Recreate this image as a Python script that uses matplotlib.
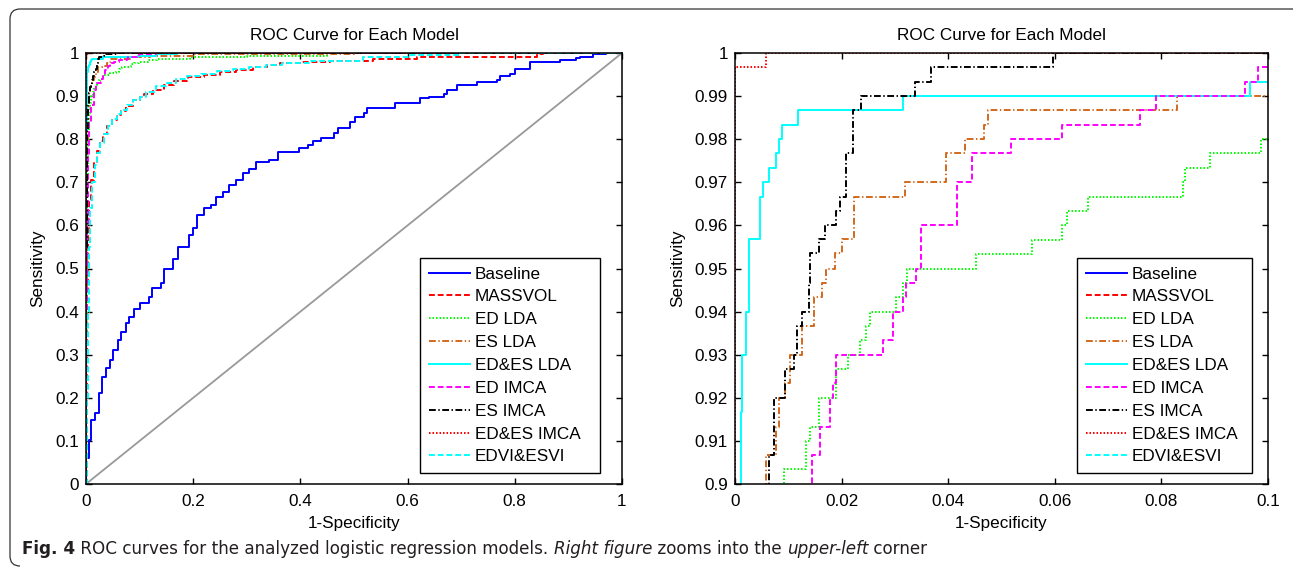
import numpy as np
import matplotlib
matplotlib.use('Agg')
import matplotlib.pyplot as plt
from matplotlib.path import Path
from matplotlib.patches import PathPatch

# ROC points: at fpr[k] the curve rises to tpr[k] (drawn with steps-post)
base_fpr = [0, 0, 0.005, 0.009, 0.016, 0.025, 0.030, 0.037, 0.044, 0.050, 0.059, 0.065, 0.075, 0.081, 0.090,
            0.100, 0.118, 0.124, 0.140, 0.146, 0.162, 0.171, 0.193, 0.199, 0.208, 0.221, 0.233, 0.243, 0.255,
            0.267, 0.280, 0.292, 0.305, 0.317, 0.342, 0.358, 0.398, 0.414, 0.423, 0.438, 0.463, 0.471, 0.493,
            0.502, 0.518, 0.524, 0.576, 0.623, 0.639, 0.667, 0.673, 0.692, 0.729, 0.766, 0.772, 0.791, 0.800,
            0.828, 0.884, 0.915, 0.921, 0.946, 0.97, 1.0]
base_tpr = [0, 0.06, 0.102, 0.148, 0.164, 0.210, 0.249, 0.268, 0.288, 0.311, 0.334, 0.353, 0.373, 0.388, 0.407,
            0.419, 0.435, 0.454, 0.466, 0.500, 0.523, 0.551, 0.578, 0.593, 0.624, 0.640, 0.647, 0.667, 0.678,
            0.694, 0.705, 0.721, 0.732, 0.746, 0.752, 0.771, 0.779, 0.786, 0.796, 0.802, 0.814, 0.827, 0.841,
            0.852, 0.860, 0.872, 0.883, 0.895, 0.899, 0.906, 0.914, 0.926, 0.932, 0.937, 0.947, 0.952, 0.963,
            0.978, 0.984, 0.988, 0.991, 0.997, 1.0, 1.0]

massvol_fpr = [0, 0.001, 0.002, 0.003, 0.006, 0.010, 0.015, 0.020, 0.026, 0.032, 0.040, 0.048, 0.057, 0.065,
               0.075, 0.088, 0.100, 0.108, 0.125, 0.145, 0.165, 0.190, 0.220, 0.250, 0.280, 0.312, 0.337, 0.362,
               0.400, 0.455, 0.536, 0.617, 0.841, 0.853, 1.0]
massvol_tpr = [0, 0.25, 0.45, 0.58, 0.66, 0.705, 0.745, 0.772, 0.795, 0.813, 0.830, 0.845, 0.856, 0.866,
               0.878, 0.890, 0.898, 0.905, 0.915, 0.926, 0.935, 0.945, 0.949, 0.957, 0.961, 0.968, 0.972, 0.976,
               0.979, 0.981, 0.985, 0.991, 0.997, 1.0, 1.0]

edlda_fpr = [0, 0.0005, 0.001, 0.002, 0.003, 0.005, 0.007, 0.0091, 0.0133, 0.0141, 0.0158, 0.0189, 0.0212,
             0.0234, 0.0245, 0.0253, 0.0302, 0.0315, 0.0323, 0.0452, 0.0557, 0.0613, 0.0622, 0.0663, 0.0840,
             0.0845, 0.0891, 0.0986, 0.115, 0.132, 0.194, 0.30, 0.45, 1.0]
edlda_tpr = [0, 0.35, 0.55, 0.72, 0.80, 0.86, 0.885, 0.9034, 0.910, 0.9133, 0.920, 0.9266, 0.930,
             0.9334, 0.9366, 0.940, 0.9434, 0.9467, 0.950, 0.9534, 0.9567, 0.960, 0.9634, 0.9667, 0.970,
             0.9734, 0.9767, 0.980, 0.9834, 0.9867, 0.990, 0.9934, 1.0, 1.0]

eslda_fpr = [0, 0.0005, 0.001, 0.002, 0.004, 0.0059, 0.0076, 0.0082, 0.0094, 0.0103, 0.0125, 0.0148, 0.0163,
             0.0170, 0.0187, 0.0201, 0.0223, 0.0319, 0.0396, 0.0431, 0.0467, 0.0475, 0.0829, 0.120, 0.200,
             0.500, 1.0]
eslda_tpr = [0, 0.45, 0.65, 0.80, 0.87, 0.9067, 0.9133, 0.920, 0.9234, 0.930, 0.9366, 0.9434, 0.9467,
             0.950, 0.9535, 0.9568, 0.9667, 0.970, 0.9767, 0.980, 0.9833, 0.9867, 0.990, 0.9934, 0.9967,
             1.0, 1.0]

edeslda_fpr = [0, 0.0003, 0.0007, 0.00107, 0.0013, 0.0020, 0.0026, 0.0046, 0.0053, 0.0064, 0.0077, 0.0083,
               0.0089, 0.0119, 0.0315, 0.0966, 0.130, 0.170, 1.0]
edeslda_tpr = [0, 0.60, 0.82, 0.9168, 0.930, 0.940, 0.9568, 0.9667, 0.970, 0.9733, 0.9767, 0.980,
               0.9834, 0.9867, 0.990, 0.9933, 0.9967, 1.0, 1.0]

edimca_fpr = [0, 0.0005, 0.001, 0.003, 0.006, 0.010, 0.0144, 0.0160, 0.0179, 0.0183, 0.0189, 0.0278, 0.0296,
              0.0315, 0.0321, 0.0340, 0.0349, 0.0416, 0.0444, 0.0517, 0.0613, 0.0760, 0.0790, 0.0957, 0.0982,
              0.130, 1.0]
edimca_tpr = [0, 0.40, 0.60, 0.76, 0.84, 0.88, 0.9067, 0.9133, 0.920, 0.9234, 0.930, 0.9334, 0.940,
              0.9434, 0.9467, 0.950, 0.960, 0.970, 0.9767, 0.980, 0.9833, 0.9867, 0.990, 0.9933, 0.9967,
              1.0, 1.0]

esimca_fpr = [0, 0.0005, 0.001, 0.002, 0.004, 0.0064, 0.0074, 0.0093, 0.0111, 0.0117, 0.0125, 0.0138, 0.0141,
              0.0157, 0.0168, 0.0190, 0.0197, 0.0208, 0.0222, 0.0237, 0.0338, 0.0368, 0.0597, 1.0]
esimca_tpr = [0, 0.55, 0.72, 0.82, 0.88, 0.9067, 0.920, 0.9266, 0.930, 0.9367, 0.940, 0.9467, 0.9535,
              0.9568, 0.960, 0.9633, 0.9667, 0.9767, 0.9868, 0.990, 0.9933, 0.9967, 1.0, 1.0]

edesimca_fpr = [0, 0, 0.0058, 1.0]
edesimca_tpr = [0, 0.9967, 1.0, 1.0]

edvi_fpr = [0, 0.001, 0.003, 0.005, 0.008, 0.012, 0.016, 0.021, 0.027, 0.033, 0.041, 0.049, 0.058, 0.066,
            0.076, 0.088, 0.100, 0.112, 0.130, 0.150, 0.168, 0.188, 0.215, 0.245, 0.275, 0.305, 0.335, 0.365,
            0.420, 0.516, 0.600, 0.700, 1.0]
edvi_tpr = [0, 0.2, 0.40, 0.55, 0.64, 0.70, 0.74, 0.768, 0.792, 0.812, 0.830, 0.846, 0.858, 0.868,
            0.880, 0.892, 0.898, 0.910, 0.923, 0.931, 0.939, 0.946, 0.951, 0.958, 0.962, 0.968, 0.972, 0.977,
            0.981, 0.991, 0.995, 1.0, 1.0]

labels = ['Baseline', 'MASSVOL', 'ED LDA', 'ES LDA', 'ED&ES LDA', 'ED IMCA', 'ES IMCA', 'ED&ES IMCA', 'EDVI&ESVI']

left_xticks = [0, 0.2, 0.4, 0.6, 0.8, 1]
left_xticklabels = ['0', '0.2', '0.4', '0.6', '0.8', '1']
left_yticks = [0, 0.1, 0.2, 0.3, 0.4, 0.5, 0.6, 0.7, 0.8, 0.9, 1]
left_yticklabels = ['0', '0.1', '0.2', '0.3', '0.4', '0.5', '0.6', '0.7', '0.8', '0.9', '1']
right_xticks = [0, 0.02, 0.04, 0.06, 0.08, 0.1]
right_xticklabels = ['0', '0.02', '0.04', '0.06', '0.08', '0.1']
right_yticks = [0.9, 0.91, 0.92, 0.93, 0.94, 0.95, 0.96, 0.97, 0.98, 0.99, 1]
right_yticklabels = ['0.9', '0.91', '0.92', '0.93', '0.94', '0.95', '0.96', '0.97', '0.98', '0.99', '1']

curves = [(base_fpr, base_tpr), (massvol_fpr, massvol_tpr), (edlda_fpr, edlda_tpr), (eslda_fpr, eslda_tpr),
          (edeslda_fpr, edeslda_tpr), (edimca_fpr, edimca_tpr), (esimca_fpr, esimca_tpr),
          (edesimca_fpr, edesimca_tpr), (edvi_fpr, edvi_tpr)]
colors = ['#0000ff', '#ff0000', '#00ff00', '#d2691e', '#00ffff', '#ff00ff', '#000000', '#ff0000', '#00ffff']
dashes = [None, (3, 1.5), (0.8, 1.0), (3.5, 1.3, 0.7, 1.3), None, (3, 1.5), (3.5, 1.3, 0.7, 1.3),
          (0.8, 1.0), (3, 1.5)]

plt.rcParams['font.family'] = ['Liberation Sans', 'DejaVu Sans']
fs = 12.3

fig = plt.figure(figsize=(12.93, 5.72), dpi=100)
W, H = 1293.0, 572.0
ax1 = fig.add_axes([86 / W, 1 - 484 / H, 536 / W, 431 / H])
ax2 = fig.add_axes([735 / W, 1 - 484 / H, 533 / W, 431 / H])


def draw(ax, xlim, ylim, xt, xtl, yt, ytl, diag):
    if diag:
        ax.plot([0, 1], [0, 1], color='#999999', lw=1.3)
    for (x, y), c, d, lab in zip(curves, colors, dashes, labels):
        line, = ax.plot(x, y, drawstyle='steps-post', color=c, lw=1.4, label=lab)
        if d is not None:
            line.set_dashes(d)
    ax.set_xlim(xlim)
    ax.set_ylim(ylim)
    ax.set_xticks(xt)
    ax.set_xticklabels(xtl)
    ax.set_yticks(yt)
    ax.set_yticklabels(ytl)
    ax.tick_params(direction='in', top=True, right=True, length=4, width=1, labelsize=fs, pad=5)
    ax.tick_params(axis='x', pad=7)
    for s in ax.spines.values():
        s.set_linewidth(1.1)
    ax.set_title('ROC Curve for Each Model', fontsize=fs, pad=9)
    ax.set_xlabel('1-Specificity', fontsize=fs, labelpad=5)
    ax.set_ylabel('Sensitivity', fontsize=fs, labelpad=7)


draw(ax1, (0, 1), (0, 1), left_xticks, left_xticklabels, left_yticks, left_yticklabels, True)
draw(ax2, (0, 0.1), (0.9, 1), right_xticks, right_xticklabels, right_yticks, right_yticklabels, False)

# legend boxes (pixel extents in the figure)
for ax, lx, rx in [(ax1, 420, 600), (ax2, 1077, 1252)]:
    pos = ax.get_position()
    x0 = pos.x0 * W
    w = pos.width * W
    leg = ax.legend(loc='lower left', bbox_to_anchor=((lx - x0) / w, 11 / 431.0, (rx - lx) / w, 0.3),
                    mode='expand', fontsize=fs, handlelength=2.4, handletextpad=0.3, labelspacing=0.46,
                    borderpad=0.5, borderaxespad=0, fancybox=False, framealpha=1, edgecolor='black')
    leg.get_frame().set_linewidth(1.0)


# frame around the figure (top and left edges with rounded corners)
def fp(x, y):
    return (x / W, 1 - y / H)


verts = [fp(1293, 9), fp(20, 9), fp(10, 9), fp(10, 19), fp(10, 556), fp(10, 566), fp(20, 566)]
codes = [Path.MOVETO, Path.LINETO, Path.CURVE3, Path.CURVE3, Path.LINETO, Path.CURVE3, Path.CURVE3]
fig.patches.append(PathPatch(Path(verts, codes), transform=fig.transFigure, fill=False,
                             edgecolor='#333333', lw=0.9))

# caption, scaled to span the same width as in the original
cap_parts = [('Fig. 4', 'bold', 'normal'), (' ROC curves for the analyzed logistic regression models. ', 'normal', 'normal'),
             ('Right figure', 'normal', 'italic'), (' zooms into the ', 'normal', 'normal'),
             ('upper-left', 'normal', 'italic'), (' corner', 'normal', 'normal')]
fig.canvas.draw()
renderer = fig.canvas.get_renderer()


def put_caption(size):
    xpos = 22 / W
    made = []
    for txt, wt, st in cap_parts:
        t = fig.text(xpos, 1 - 554 / H, txt, fontsize=size, family='DejaVu Sans', weight=wt, style=st,
                     color='#231f20', va='baseline', ha='left')
        made.append(t)
        xpos = t.get_window_extent(renderer).x1 / W
    return made, xpos * W


made, x_end = put_caption(11)
for t in made:
    t.remove()
put_caption(11 * (928 - 22) / (x_end - 22))

fig.savefig('out.png', dpi=100)
